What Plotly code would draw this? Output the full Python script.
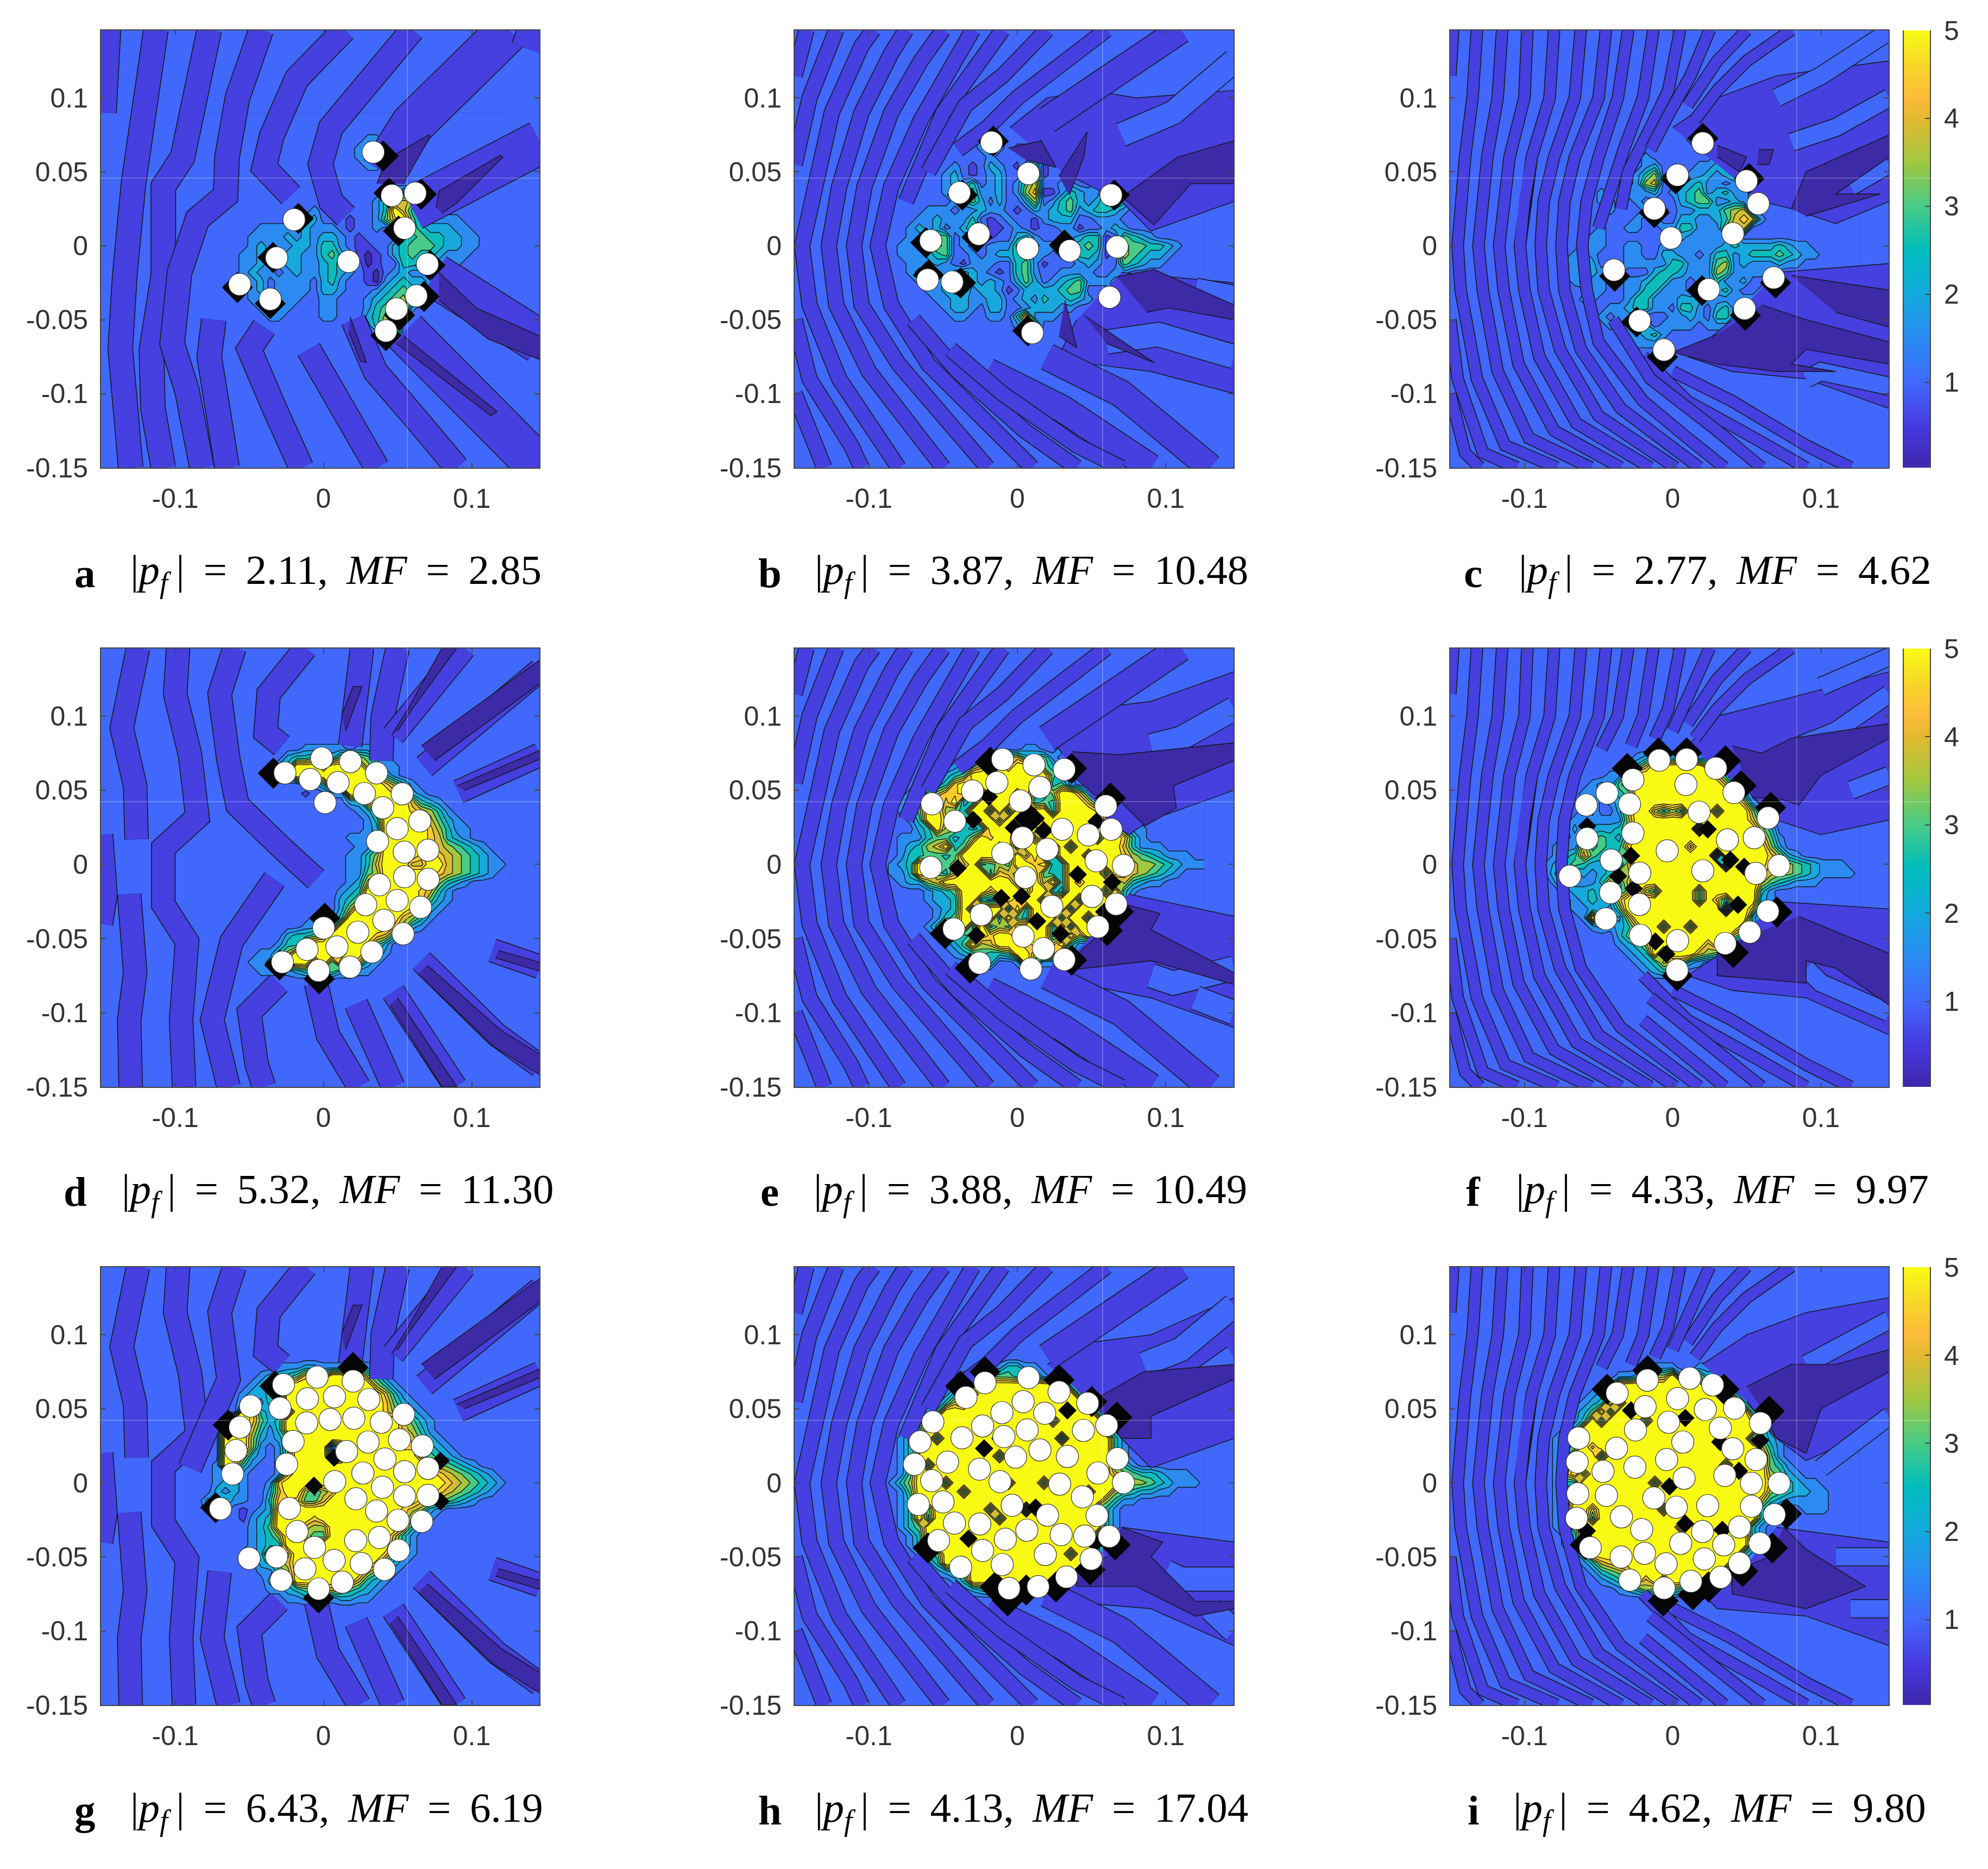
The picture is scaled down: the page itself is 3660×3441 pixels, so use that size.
import numpy as np
import plotly.graph_objects as go

# ---------- near-field band readings: 31 rows x 37 columns, x -0.09..0.126, y 0.09..-0.09 ----------
BAND_VALUE = {'0': .3, '1': .78, '2': 1.25, '3': 1.75, '4': 2.25, '5': 2.75, '6': 3.25,
              '7': 3.75, '8': 4.25, '9': 4.75, 'Y': 5.6}
E_ = '22222 22222 22222 22222 22222 22222 22222 22'

GRID_A = [E_, E_, E_,
'22222 22222 22222 22222 33222 22222 22222 22',
'22222 22222 22222 22223 43222 22222 22222 22',
'22222 22222 22222 22223 35222 22222 22222 22',
'22222 22222 22222 22222 33222 22222 22222 22',
E_, E_,
'22222 22222 22222 22222 22354 43222 22222 22',
'22222 22222 22222 21022 23578 73222 22222 22',
'22222 22222 22223 21122 235Y8 53222 22222 22',
'22222 22222 22334 22212 2369Y 64333 32222 22',
'22222 22233 33343 33212 23256 65444 33222 22',
'22222 22333 34343 44321 22225 56554 43322 22',
'22222 22343 33443 55321 12245 66654 43322 22',
'22222 23343 34433 56431 01245 65543 33222 22',
'22222 23343 34433 45432 01225 55433 32222 22',
'22222 23433 23433 45432 10234 33222 22222 22',
'22222 23342 33332 45322 10345 44322 22222 22',
'22222 22342 33332 44322 23456 55322 22222 22',
'22222 22333 33322 33222 34567 55222 22222 22',
'22222 22233 33222 33222 35679 32222 22222 22',
'22222 22223 32222 33222 45788 22222 22222 22',
'22222 22222 22222 22222 35892 22222 22222 22',
'22222 22222 22222 22222 23572 22222 22222 22',
E_, E_, E_, E_, E_]

GRID_B = [E_, E_,
'22222 22222 22322 22222 22222 22222 22222 22',
'22222 22222 23432 22222 22222 22222 22222 22',
'22222 22222 23532 11232 22222 22222 22222 22',
'22222 22222 22322 21332 22222 22222 22222 22',
'22222 22232 12432 14612 22222 23222 22222 22',
'22222 22342 12342 25712 22222 35432 22222 22',
'22222 22343 52342 36822 33223 57632 22222 22',
'22222 22335 63342 37911 35433 68532 22222 22',
'22222 22234 64242 24723 56434 67522 22222 22',
'22222 33323 34332 12434 56345 54322 22222 22',
'22223 34333 52123 22134 44223 33222 22222 22',
'22234 34234 63112 32122 33122 34322 22222 22',
'22233 46623 33122 45322 23455 12654 32222 22',
'22333 47623 22333 66433 45565 12766 55432 22',
'22333 45622 32344 55332 33554 12765 44322 22',
'22233 34321 33322 56312 22343 22654 33222 22',
'22232 22345 43212 56322 33332 23322 22222 22',
'22223 33455 43432 46423 45633 34322 22222 22',
'22222 33455 34431 24444 56622 27732 22222 22',
'22222 23344 33442 34354 45432 37822 22222 22',
'22222 22344 32442 23444 33222 23522 22222 22',
'22222 22233 22332 59333 22222 22222 22222 22',
'22222 22222 22222 35722 22222 22222 22222 22',
'22222 22222 22222 23422 22222 22222 22222 22',
E_, E_, E_, E_, E_]

GRID_C = [E_, E_,
'22222 22222 22222 22233 22222 22222 22222 22',
'22222 22222 22222 22343 22222 22222 22222 22',
'22222 22222 22222 22233 22222 22222 22222 22',
'22222 22222 22322 22222 33222 22222 22222 22',
'22222 22222 22342 22233 43322 22222 22222 22',
'22222 22222 23572 22334 34522 22222 22222 22',
'22222 22222 23782 23453 32342 22222 22222 22',
'22222 22322 33342 34563 45332 22222 22222 22',
'22222 22332 23222 24566 33432 22222 22222 22',
'22222 22232 22333 23344 46782 22222 22222 22',
'22222 22222 23232 24433 45898 32222 22222 22',
'22222 22322 33223 35533 37882 22222 22222 22',
'22222 23322 22222 34333 33422 22222 22222 22',
'22222 33322 33223 33333 34544 44543 32222 22',
'22223 43222 33224 43323 55345 55654 33222 22',
'22233 44232 33333 55333 67343 33433 22222 22',
'22233 34323 22245 54333 76333 32222 22222 22',
'22223 43322 33455 33233 53342 22222 22222 22',
'22222 23322 33553 33233 45322 33322 22222 22',
'22222 33222 35533 34443 33333 34322 22222 22',
'22222 22233 45533 25532 45342 22222 22222 22',
'22222 22323 33222 33432 55322 22222 22222 22',
'22222 22232 34423 33323 33222 22222 22222 22',
'22222 22222 33453 22222 22222 22222 22222 22',
'22222 22222 23332 22222 22222 22222 22222 22',
'22222 22222 22222 22222 22222 22222 22222 22',
E_, E_, E_]

GRID_D = [E_, E_,
'22222 22222 22233 33323 33222 22222 22222 22',
'22222 22222 24556 64777 63322 22222 22222 22',
'22222 22222 45YYY 8YY9Y 75332 22222 22222 22',
'22222 22222 35YYY YYYYY Y8532 22222 22222 22',
'22222 22222 22233 5YYYY YY975 32222 22222 22',
'22222 22222 22212 233YY 8YY96 43222 22222 22',
'22222 22222 22222 22244 9YYYY 85432 22222 22',
'22222 22222 22222 22223 47YYY 98753 22222 22',
'22222 22222 22222 22222 35YYY Y9864 32222 22',
'22222 22222 22222 22222 34YYY YY975 33222 22',
'22222 22222 22222 22233 35YYY YY985 43222 22',
'22222 22222 22222 22223 35YYY YY987 65432 22',
'22222 22222 22222 22233 57YYY Y9Y98 76543 22',
'22222 22222 22222 22233 58YYY 88YY8 76543 32',
'22222 22222 22222 22233 67YYY YYY98 76543 22',
'22222 22222 22222 22234 8YYYY YY975 43222 22',
'22222 22222 22222 22345 YYYYY Y9853 22222 22',
'22222 22222 22222 22457 YYYYY Y9643 22222 22',
'22222 22222 22222 2247Y YYYYY 97432 22222 22',
'22222 22222 22223 235YY YYYY8 75322 22222 22',
'22222 22222 22233 45YYY YYY97 43222 22222 22',
'22222 22222 24556 7YYYY Y9853 22222 22222 22',
'22222 22222 355YY YYYYY 96422 22222 22222 22',
'22222 22233 57YYY YY8YY 85322 22222 22222 22',
'22222 22334 8YYY6 Y6YY8 43222 22222 22222 22',
'22222 22233 33455 56453 32222 22222 22222 22',
E_, E_, E_]

GRID_E = [E_, E_,
'22222 22222 23322 23322 32222 22222 22222 22',
'22222 22222 45687 85563 22222 22222 22222 22',
'22222 22234 68YY8 YYY65 32222 22222 22222 22',
'22222 23456 YYYYY YYYY6 43222 22222 22222 22',
'22222 3459Y 9YYYY YY7Y5 63222 22222 22222 22',
'22234 6799Y 65YYY 8Y647 YY853 22222 22222 22',
'22345 YY8Y4 5YYYY 5Y565 YYY85 32222 22222 22',
'22346 YY765 YY5Y5 Y6YY5 YYYY9 53222 22222 22',
'22235 YY8Y4 5YY6Y YY5YY YYYYY 86322 22222 22',
'22224 5Y775 45YYY 8YY5Y YYYYY Y8533 22222 22',
'22333 56645 7Y9YY 5Y6YY YYYY5 YY953 22222 22',
'22345 78Y56 YYY8Y 5YYY5 Y5YYY YY853 33222 22',
'22355 6656Y YYYY6 Y7Y55 YYY5Y YY976 54333 22',
'2345Y 75678 Y5676 YY9Y5 5YYYY YY987 76543 33',
'2335Y 9658Y YY598 7YY65 5YYYY 5Y987 65432 22',
'22344 78YYY YYYYY 76Y7Y 5Y8YY Y5854 33222 22',
'22222 3456Y YY8YY Y7YY5 4YYYY 5Y532 22222 22',
'22222 3445Y Y545Y 8YY5Y YY5YY YY522 22222 22',
'22222 2345Y 5YYY5 Y5YY5 Y5YYY YY422 22222 22',
'22222 2356Y YYY5Y 65YYY 5YY5Y 5Y222 22222 22',
'22222 35Y7Y 5Y576 YYYY5 Y5YYY 42222 22222 22',
'22222 23465 6Y9YY 8YYY5 6Y7YY 22222 22222 22',
'22222 22346 Y78YY Y8YY8 Y5322 22222 22222 22',
'22222 22234 56556 YY7YY 54222 22222 22222 22',
'22222 22222 34522 3Y633 22222 22222 22222 22',
'22222 22222 22222 23222 22222 22222 22222 22',
E_, E_, E_]

GRID_F = [E_, E_,
'22222 22222 22222 22222 22222 22222 22222 22',
'22222 22222 23443 45433 22222 22222 22222 22',
'22222 22222 458YY YYYY8 53222 22222 22222 22',
'22222 22233 7YYYY YYYYY 85222 22222 22222 22',
'22222 23436 8YYYY YYYYY Y8422 22222 22222 22',
'22222 33445 6YYYY YYYYY YY842 22222 22222 22',
'22222 34234 6YYYY YYYYY YYY83 22222 22222 22',
'22222 34224 8YY75 75YYY 5YYY7 32222 22222 22',
'22223 33333 7YYYY YYYYY YYYY8 53222 22222 22',
'22224 24445 7YYYY YYY0Y YYYYY 75222 22222 22',
'22223 35654 7YYYY YYYYY YYYYY 96322 22222 22',
'22333 85655 9YYYY YY7YY YYYYY Y7422 22222 22',
'22345 96556 5YYYY YYYYY 0YYYY Y9743 22222 22',
'23456 54453 8YYYY YYYYY Y0YYY Y8776 54333 22',
'23553 43458 7YYYY YYYYY YYYYY 98776 54333 32',
'22453 33585 8YYYY YYYYY YYYYY 86543 33222 22',
'22234 45355 7Y75Y YYY5Y YYYYY 53222 22222 22',
'22223 45448 YYYYY YYY5Y 85YYY 43222 22222 22',
'22223 34436 YYYYY YYYYY Y0YY8 32222 22222 22',
'22222 3Y543 7YYYY YYYYY YYYY4 22222 22222 22',
'22222 23434 58YY5 YY5YY YYY85 22222 22222 22',
'22222 22224 68YYY YYYYY YY752 22222 22222 22',
'22222 22223 457YY YYYY8 Y7322 22222 22222 22',
'22222 22222 345Y5 YYY87 63222 22222 22222 22',
'22222 22222 23458 77432 22222 22222 22222 22',
'22222 22222 22345 32222 22222 22222 22222 22',
E_, E_, E_]

GRID_G = [E_,
E_,
'22222 22222 33344 33345 33222 22222 22222 22',
'22222 22234 45698 7YY7Y 75322 22222 22222 22',
'22222 22345 5YYYY YYYYY Y7532 22222 22222 22',
'22222 23445 3YYYY YYYYY YY853 22222 22222 22',
'22222 24435 4YYYY YYYYY YY964 32222 22222 22',
'22222 2Y954 35YYY YYYYY YY975 43222 22222 22',
'2222Y YY964 5YYYY YYYYY YYYY8 64322 22222 22',
'2222Y YY853 5YYYY YYYYY YYYY8 75322 22222 22',
'2222Y YY743 46YYY YYYYY YYYY9 86432 22222 22',
'2222Y YY732 37YYY Y25YY YYYY9 96543 22222 22',
'2222Y Y8432 36YYY Y34YY YYYYY Y7654 32222 22',
'2223Y 95322 37YYY YYYYY YYYYY YY876 54322 22',
'22233 33222 38YYY YYYYY YYYYY YYY98 76543 22',
'22234 43223 9YYYY YYYYY YYYYY YYYY9 87654 32',
'22243 43224 8YY75 78YYY YYYYY YYY98 76543 22',
'22435 33225 99966 8YYYY YYYYY Y9876 54322 22',
'22353 21234 YYYYY YYYYY YYYY9 87432 22222 22',
'22222 21345 YYYY9 YYYYY YYYY9 64322 22222 22',
'22222 22346 YYY87 7YYYY YYYY9 53222 22222 22',
'22222 22345 7YY76 6YYYY YYY85 32222 22222 22',
'22222 22345 5YYYY YYYYY YYY75 32222 22222 22',
'22222 2334Y 97YYY YYYYY YY964 32222 22222 22',
'22222 22245 78YYY YYYYY Y9643 22222 22222 22',
'22222 22233 57YYY YYYYY 86432 22222 22222 22',
'22222 22224 55YYY YYYY8 54322 22222 22222 22',
'22222 22223 34567 88765 43222 22222 22222 22',
'22222 22222 23343 33443 32222 22222 22222 22',
E_, E_]

GRID_H = [E_, E_,
'22222 22222 22335 53322 22222 22222 22222 22',
'22222 22223 45766 58532 22222 22222 22222 22',
'22222 22235 YYYYY YYYYY Y5322 22222 22222 22',
'22222 22356 7YYYY YYYYY YY532 22222 22222 22',
'22222 23585 YYYYY YYYYY YYY53 22222 22222 22',
'22222 35YYY YYYYY YYYYY YYYY5 32222 22222 22',
'22235 YYYYY YYYYY YYYY5 YYYYY 53222 22222 22',
'22235 YYYYY YYYYY YYYYY YYYYY 53222 22222 22',
'22356 Y5YYY YYY0Y YYYYY 4YYYY Y5322 22222 22',
'22356 YYYYY YYYYY YYYYY YYYYY Y5322 22222 22',
'2235Y YYYYY YYY5Y YYYYY YYYYY Y5322 22222 22',
'2235Y 5YYYY YYYYY YYYYY YYYYY Y6532 22222 22',
'2236Y YYYYY YYYYY YYYYY YYYYY Y8765 54333 22',
'2357Y YY5YY YYYY5 YYY5Y YYYYY YY877 65433 32',
'2236Y YYYY5 YYYYY YYYYY YYY5Y Y7654 43322 22',
'2235Y YYYYY YYYYY YYYYY YYYYY 75332 22222 22',
'2235Y 6YYYY YY5YY Y0YYY YYYY5 53222 22222 22',
'2235Y 5YYYY YYY5Y YYYYY YYYYY 53222 22222 22',
'22356 YYYYY YYYYY YYYYY YYYYY 53222 22222 22',
'22235 YYYYY YYYYY YYYYY YYYY5 32222 22222 22',
'22235 YYYYY YYYYY YYYYY YYYY5 32222 22222 22',
'22223 56YYY YYYYY YYYYY Y5YY5 22222 22222 22',
'22222 35YYY YYYYY YYYYY YYY53 22222 22222 22',
'22222 23456 YYYYY YYYYY YY532 22222 22222 22',
'22222 22235 YYYYY YYYYY Y5322 22222 22222 22',
'22222 22223 45667 55554 32222 22222 22222 22',
E_, E_, E_]

GRID_I = [E_, E_,
'22222 22222 22233 32233 22222 22222 22222 22',
'22222 22223 34677 Y4774 52222 22222 22222 22',
'22222 2234Y YYYYY YYYY5 Y5322 22222 22222 22',
'22222 2346Y YYYYY YYYYY Y9532 22222 22222 22',
'22222 345Y5 YYYYY YYYYY YYY53 22222 22222 22',
'22223 46Y5Y YYYYY YYYYY YYYY5 32222 22222 22',
'22223 5Y5YY YY5YY YYYYY YYYY9 53222 22222 22',
'22235 YYYYY YYYYY YYYYY YYYYY 63222 22222 22',
'22356 YYYYY YYYYY YYYYY YYYY5 64322 22222 22',
'22356 Y8YYY YYYYY YYYYY YYYYY 85322 22222 22',
'2236Y YY5YY YYYYY YYYYY YYYYY Y6322 22222 22',
'2236Y YYYYY YYYYY YYYYY Y5YYY Y6532 22222 22',
'2238Y 6YYYY YYYYY YYYYY YYYYY Y7643 22222 22',
'22355 YYYYY YYY5Y YYYYY YYYYY Y8654 33222 22',
'2236Y YYYYY YYYYY YYYYY YYYYY Y7654 43322 22',
'2235Y YYYYY YYYYY YYYYY YYYYY 85433 33322 22',
'2236Y Y7YYY YYYY5 YYYYY YYYYY 53222 33322 22',
'2235Y Y5YYY YYYYY YYYYY YYYYY 53222 22222 22',
'22356 YYYYY YYYYY Y5YYY YYYY5 32222 22222 22',
'22235 YYYYY YYYYY YYYYY YYYY5 32222 22222 22',
'22235 YYYYY YYYYY YYYYY YYYY5 32222 22222 22',
'22223 5YYYY YYYYY YYYYY YYY53 22222 22222 22',
'22222 3589Y YYYYY YYYYY YY532 22222 22222 22',
'22222 23567 8YYYY YYYYY Y5322 22222 22222 22',
'22222 22345 7Y8Y6 YY7Y5 53222 22222 22222 22',
'22222 22223 45765 65543 32222 22222 22222 22',
E_, E_, E_]

# ---------- far-field stripes: centre-lines (x1,y1,x2,y2,...) ----------
FAR_A = [
 [-.145,.146,-.148,.09],
 [-.113,.146,-.122,.09,-.128,.043,-.134,-.02,-.137,-.07,-.13,-.15],
 [-.077,.146,-.085,.1,-.095,.06,-.108,.04,-.108,-.02,-.116,-.07,-.115,-.11,-.108,-.15],
 [-.042,.146,-.058,.1,-.065,.06,-.066,.034,-.085,.018,-.097,-.018,-.102,-.066,-.092,-.098,-.082,-.15],
 [.014,.146,-.018,.113,-.035,.074,-.04,.053,-.022,.034],
 [.06,.146,.03,.113,.005,.08,-.002,.055,.005,.03,.015,.02],
 [.02,-.05,.035,-.085,.065,-.12,.09,-.15],
 [-.01,-.07,.005,-.098,.036,-.15],
 [-.04,-.055,-.05,-.07,-.033,-.11,-.015,-.15],
 [-.074,-.05,-.077,-.075,-.065,-.15],
]
WIDE_A = [
 [.125,.146,.06,.082,.04,.05],
 [.146,.07,.09,.045,.06,.025],
 [.075,-.02,.146,-.065],
 [.055,-.058,.118,-.115,.146,-.15],
 [.146,.146,.141,.132],
]
DARK_A = [
 [.036,.042,.042,.058,.071,.075,.072,.074,.054,.042],
 [.076,.026,.078,.037,.119,.061,.121,.06,.09,.029,.08,.022],
 [.078,-.018,.103,-.042,.146,-.061,.146,-.077,.111,-.063,.078,-.037],
 [.054,-.061,.117,-.112,.113,-.115,.049,-.066],
 [.018,-.048,.029,-.079,.025,-.078,.017,-.058],
]

FAR_LOW = [
 [-.125,.146,-.136,.092,-.127,.053,-.126,.017],
 [-.15,.02,-.147,-.02,-.15,-.04],
 [-.098,.146,-.1,.115,-.09,.074,-.085,.032,-.108,.011,-.108,-.027,-.092,-.052,-.096,-.105,-.094,-.15],
 [-.131,-.02,-.127,-.073,-.131,-.105,-.13,-.15],
 [-.03,-.08,-.05,-.1,-.045,-.135,-.04,-.15],
 [-.012,.146,-.037,.115,-.039,.089,-.028,.08],
 [.026,.146,.018,.1,.018,.08],
 [.05,.146,.04,.1,.039,.07],
 [.095,.146,.047,.087],
 [.146,.131,.068,.066],
 [.146,.074,.091,.049],
 [.066,-.065,.117,-.115,.146,-.136],
 [.047,-.086,.089,-.15],
 [.022,-.094,.03,-.115,.047,-.15],
 [-.005,-.08,.003,-.115,.024,-.15],
 [.114,-.058,.146,-.069],
]
INNER_D = [
 [-.06,.146,-.07,.115,-.064,.07,-.058,.04,-.028,.011,-.005,-.01],
 [-.033,-.01,-.062,-.052,-.075,-.105,-.064,-.15],
]
INNER_G = [
 [-.06,.146,-.07,.115,-.064,.07,-.075,.04,-.09,.01],
 [-.07,-.06,-.075,-.105,-.064,-.15],
]
DARK_LOW = [
 [.05,.09,.06,.105,.09,.146,.08,.146,.057,.105,.046,.087],
 [.075,.07,.146,.122,.146,.138,.066,.08],
 [.095,.05,.146,.071,.146,.077,.09,.053],
 [.07,-.068,.12,-.112,.146,-.128,.146,-.142,.115,-.123,.064,-.074],
 [.05,-.09,.08,-.135,.09,-.15,.08,-.15,.045,-.095],
 [.118,-.058,.146,-.066,.146,-.072,.116,-.063],
 [.015,.09,.026,.12,.02,.12,.012,.1],
]

FAR_MID = [
 [-.03,.146,-.045,.12,-.065,.085,-.085,.04,-.094,0,-.085,-.04,-.06,-.08,-.02,-.12,.01,-.15],
 [-.05,.146,-.065,.125,-.085,.09,-.103,.04,-.11,0,-.105,-.04,-.08,-.08,-.042,-.125,-.02,-.15],
 [-.075,.146,-.085,.13,-.105,.09,-.12,.04,-.127,0,-.122,-.04,-.1,-.085,-.065,-.13,-.05,-.15],
 [-.097,.146,-.105,.135,-.125,.09,-.137,.04,-.145,0,-.14,-.04,-.12,-.09,-.09,-.135,-.08,-.15],
 [-.122,.146,-.14,.1,-.15,.055],
 [-.15,-.05,-.14,-.09,-.112,-.135,-.105,-.15],
 [-.142,.146,-.15,.115],
 [-.15,-.1,-.13,-.15],
 [-.01,.146,-.03,.12,-.05,.09,-.075,.03],
 [.02,.146,-.01,.115,-.035,.095,-.06,.05],
 [.06,.146,.0,.1,-.02,.08,-.04,.065],
 [-.07,-.05,-.04,-.085,.005,-.125,.04,-.15],
 [-.045,-.07,-.01,-.1,.04,-.135,.07,-.15],
]
WIDE_MID = [
 [.11,.146,.05,.105,.02,.085],
 [-.02,-.085,.03,-.11,.09,-.15],
 [.02,-.075,.07,-.1,.13,-.15],
]
FAR_HIGH = [
 [-.045,.146,-.05,.1,-.066,.06,-.073,.03,-.075,0,-.073,-.03,-.062,-.07,-.035,-.11,.018,-.15],
 [-.062,.146,-.066,.1,-.08,.06,-.087,.03,-.089,0,-.087,-.03,-.076,-.07,-.05,-.115,.002,-.15],
 [-.08,.146,-.083,.1,-.095,.06,-.1,.03,-.103,0,-.1,-.03,-.09,-.075,-.065,-.12,-.015,-.15],
 [-.098,.146,-.1,.1,-.11,.06,-.114,.03,-.117,0,-.114,-.03,-.104,-.08,-.08,-.125,-.035,-.15],
 [-.115,.146,-.118,.1,-.125,.06,-.128,.03,-.131,0,-.128,-.03,-.118,-.085,-.097,-.13,-.055,-.15],
 [-.132,.146,-.135,.1,-.14,.06,-.143,.03,-.145,0,-.143,-.03,-.132,-.09,-.113,-.135,-.078,-.15],
 [-.15,.115,-.148,.146],
 [-.15,-.05,-.145,-.09,-.128,-.14,-.105,-.15],
 [-.15,-.1,-.14,-.14,-.13,-.15],
 [.05,.146,.03,.125,.01,.095],
 [.08,.146,.05,.125,.03,.105,.015,.085],
 [-.02,-.075,.01,-.105,.055,-.13,.09,-.15],
 [.0,-.085,.04,-.105,.09,-.135,.12,-.15],
]
INNER_C = [
 [-.03,.146,-.037,.1,-.05,.06,-.058,.03,-.061,0,-.058,-.03,-.05,-.065,-.02,-.105,.01,-.13,.035,-.15],
 [-.013,.146,-.02,.1,-.033,.065,-.045,.03,-.05,.012],
 [.005,.146,-.003,.105,-.015,.08,-.03,.05,-.035,.025],
 [.025,.146,.012,.115,-.002,.09,-.015,.065],
 [-.04,-.05,-.015,-.09,.03,-.125,.06,-.15],
]
INNER_FI = [
 [-.03,.146,-.037,.1,-.048,.078],
 [-.02,-.105,.01,-.13,.035,-.15],
 [-.013,.146,-.02,.1,-.028,.08],
 [.005,.146,-.003,.105,-.012,.085],
 [.025,.146,.012,.115,.0,.09],
 [-.015,-.09,.03,-.125,.06,-.15],
]
# large indigo patches right of the cluster, blue tongues inside them, and the darkest patches
PATCH_B = [[-.005,.08,.02,.1,.05,.105,.08,.1,.146,.105,.146,.03,.09,.01,.07,.03,.03,.05],
           [.07,-.018,.146,-.025,.146,-.1,.09,-.085,.05,-.08,.03,-.07,.04,-.05]]
BLUE_B = [[.146,.125,.105,.09,.07,.075],[.146,.06,.12,.05],[.146,-.075,.095,-.06,.06,-.065],[.146,-.035,.12,-.03]]
DARK_B = [[.072,.034,.108,.06,.146,.071,.146,.042,.117,.042,.092,.014,.072,.032],
          [.028,.047,.047,.077,.045,.061,.035,.034],[-.006,.066,.016,.071,.026,.053,.006,.058],
          [.067,-.021,.092,-.016,.146,-.04,.146,-.05,.102,-.042,.087,-.045],
          [.045,-.047,.092,-.079,.06,-.066],[.032,-.037,.04,-.069,.028,-.061]]
PATCH_C = [[.0,.08,.03,.1,.07,.115,.146,.125,.146,.03,.11,.015,.08,.025,.06,.03],
           [.07,-.018,.146,-.012,.146,-.11,.09,-.09,.04,-.085,.01,-.075,.04,-.05]]
BLUE_C = [[.146,.1,.11,.08,.08,.07],[.146,.055,.12,.04],[.146,-.095,.1,-.085,.09,-.09],[.146,.145,.1,.115,.07,.1]]
DARK_C = [[.08,.025,.09,.05,.146,.075,.146,.06,.11,.035,.14,.035,.09,.02],
          [.03,.068,.05,.06,.045,.05,.03,.06],[.058,.065,.068,.065,.065,.055,.057,.055],
          [.08,-.02,.146,-.03,.146,-.055,.11,-.045],
          [.06,-.04,.09,-.05,.146,-.065,.146,-.08,.09,-.07,.08,-.08,.11,-.085,.07,-.085,.03,-.08,.0,-.072,.03,-.06]]
PATCH_E = [[.03,.075,.02,.09,.05,.105,.09,.11,.146,.13,.146,.05,.09,.03,.075,.02,.06,.03],
           [.075,-.02,.146,-.035,.146,-.11,.09,-.09,.04,-.08,.03,-.07]]
BLUE_E = [[.146,.105,.11,.085,.09,.08],[.146,-.07,.105,-.08,.09,-.075],[.146,-.1,.12,-.09]]
DARK_E = [[.037,.076,.069,.074,.146,.082,.146,.07,.105,.053,.107,.038,.086,.026,.069,.043,.052,.047,.037,.06],
          [.073,-.027,.096,-.033,.09,-.044,.146,-.073,.146,-.081,.09,-.065,.037,-.071,.04,-.061,.054,-.048]]
PATCH_F = [[.01,.08,.03,.1,.07,.11,.146,.13,.146,.03,.1,.02,.07,.03,.05,.05],
           [.07,-.025,.146,-.03,.146,-.115,.09,-.09,.04,-.085,.01,-.075,.04,-.055]]
BLUE_F = [[.146,.115,.11,.09,.085,.08],[.146,.06,.12,.05],[.146,-.1,.1,-.08,.09,-.07],[.146,.14,.1,.12]]
DARK_F = [[.04,.08,.06,.075,.08,.085,.146,.095,.146,.085,.1,.06,.085,.04,.07,.045,.055,.045],
          [.085,-.035,.146,-.06,.146,-.095,.11,-.07,.09,-.065,.09,-.08,.03,-.075,.03,-.06,.06,-.045]]
PATCH_H = [[.02,.08,.05,.095,.09,.1,.146,.125,.146,.03,.09,.01,.07,.03,.05,.055],
           [.07,-.03,.146,-.04,.146,-.11,.09,-.085,.03,-.08,.02,-.07,.05,-.055]]
BLUE_H = [[.146,.12,.11,.09,.085,.08],[.146,.085,.125,.07],[.146,-.065,.11,-.065,.1,-.06],[.146,-.1,.13,-.085]]
DARK_H = [[.05,.055,.085,.075,.146,.08,.146,.07,.09,.045,.09,.03,.07,.03,.06,.045],
          [.07,-.03,.098,-.04,.09,-.05,.12,-.08,.146,-.08,.146,-.085,.12,-.09,.08,-.07,.04,-.07,.04,-.06,.06,-.05]]
PATCH_I = [[.02,.08,.05,.1,.09,.115,.146,.125,.146,.04,.09,.015,.07,.03,.05,.055],
           [.07,-.03,.146,-.04,.146,-.11,.09,-.09,.03,-.085,.02,-.075,.05,-.055]]
BLUE_I = [[.146,.11,.11,.09,.09,.08],[.146,.045,.115,.02,.1,.01],[.146,-.05,.11,-.05],[.146,-.085,.12,-.085]]
DARK_I = [[.05,.065,.08,.08,.11,.08,.146,.09,.146,.075,.1,.05,.09,.02,.07,.03,.06,.05],
          [.075,-.03,.09,-.045,.13,-.07,.09,-.085,.04,-.075,.04,-.06,.065,-.05]]

# Scatterer centres
CIRCLE_A_X = [.0336,.0462,.0619,.0547,-.0198,-.0316,-.0565,-.0359,.0169,.0701,.0626,.0493,.0421]
CIRCLE_A_Y = [.0633,.0340,.0356,.0119,.0177,-.0082,-.0261,-.0361,-.0106,-.0124,-.0338,-.0427,-.0575]
CIRCLE_B_X = [-.0174,.0074,-.0390,.0631,-.0260,-.0584,.0069,.0353,.0672,-.0604,-.0439,.0621,.0101]
CIRCLE_B_Y = [.0699,.0488,.0359,.0343,.0079,.0034,-.0018,-.0034,-.0008,-.0230,-.0245,-.0348,-.0588]
CIRCLE_C_X = [.0203,.0032,.0498,-.0124,.0577,-.0012,.0406,-.0396,.0681,.0243,.0485,-.0223,-.0059]
CIRCLE_C_Y = [.0694,.0478,.0438,.0251,.0285,.0053,.0082,-.0164,-.0216,-.0296,-.0425,-.0507,-.0704]
CIRCLE_D_X = [-.0260,-.0012,.0182,.0358,-.0090,.0098,.0276,.0531,.0011,.0400,.0650,.0497,.0365,.0545,.0705,.0547,.0707,.0377,.0497,.0285,.0655,.0407,.0001,.0232,.0537,-.0111,.0091,.0327,-.0277,-.0033,.0180]
CIRCLE_D_Y = [.0617,.0716,.0693,.0617,.0573,.0552,.0478,.0476,.0417,.0382,.0293,.0241,.0155,.0083,.0096,-.0083,-.0100,-.0137,-.0243,-.0272,-.0289,-.0377,-.0428,-.0457,-.0468,-.0573,-.0556,-.0590,-.0659,-.0716,-.0692]
CIRCLE_E_X = [-.0100,.0112,.0316,-.0138,.0152,-.0302,.0020,-.0575,.0596,-.0421,.0302,.0632,.0478,.0035,.0201,-.0098,.0531,.0714,-.0583,.0054,.0503,.0232,.0665,-.0243,-.0428,.0543,.0039,.0176,.0316,-.0255,.0091]
CIRCLE_E_Y = [.0708,.0672,.0640,.0552,.0520,.0495,.0428,.0409,.0394,.0291,.0237,.0237,.0199,.0180,.0102,.0075,.0024,-.0007,-.0020,-.0087,-.0216,-.0283,-.0268,-.0339,-.0436,-.0421,-.0484,-.0568,-.0642,-.0665,-.0705]
CIRCLE_F_X = [-.0091,.0094,.0291,-.0268,.0089,.0413,-.0442,-.0583,-.0291,.0178,.0644,-.0268,-.0577,.0369,.0550,-.0037,-.0415,.0716,-.0222,.0203,.0560,-.0693,-.0419,-.0224,.0642,-.0451,.0520,-.0218,.0033,.0354,.0030]
CIRCLE_F_Y = [.0703,.0708,.0649,.0571,.0539,.0485,.0481,.0401,.0407,.0352,.0314,.0211,.0174,.0165,.0180,.0092,.0029,-.0009,-.0058,-.0043,-.0060,-.0079,-.0190,-.0270,-.0316,-.0367,-.0457,-.0478,-.0514,-.0533,-.0713]
CIRCLE_G_X = [-.0270,-.0043,.0200,-.0108,.0074,.0306,-.0491,-.0293,.0541,-.0113,.0045,.0205,.0390,-.0563,.0512,-.0205,.0667,-.0590,.0156,.0301,.0415,-.0249,-.0613,.0266,.0547,.0705,.0076,.0398,.0219,.0547,.0705,-.0695,-.0230,.0358,.0503,.0663,-.0178,.0217,.0377,-.0060,.0507,-.0501,-.0316,.0072,.0255,-.0125,.0411,-.0285,.0127,-.0033]
CIRCLE_G_Y = [.0663,.0714,.0687,.0567,.0581,.0563,.0518,.0504,.0462,.0405,.0428,.0436,.0409,.0375,.0291,.0279,.0249,.0218,.0211,.0275,.0161,.0125,.0060,.0066,.0075,.0098,.0008,-.0030,-.0108,-.0089,-.0085,-.0175,-.0173,-.0190,-.0253,-.0261,-.0329,-.0390,-.0369,-.0436,-.0455,-.0510,-.0499,-.0524,-.0545,-.0581,-.0585,-.0657,-.0671,-.0716]
CIRCLE_H_X = [-.0218,.0075,.0281,-.0346,.0039,.0474,-.0104,.0184,-.0569,-.0234,.0602,.0066,-.0373,-.0091,.0445,-.0655,.0152,-.0012,.0337,-.0693,.0674,-.0470,-.0255,.0543,-.0577,-.0117,.0285,.0714,.0438,-.0501,-.0667,-.0035,.0203,.0537,-.0424,-.0253,.0064,.0295,.0453,.0619,-.0531,-.0081,-.0234,.0188,-.0102,.0497,-.0382,.0331,-.0056,.0140]
CIRCLE_H_Y = [.0676,.0710,.0613,.0577,.0548,.0537,.0474,.0470,.0411,.0384,.0388,.0357,.0304,.0312,.0354,.0277,.0222,.0174,.0178,.0125,.0163,.0140,.0092,.0066,.0014,.0008,-.0009,.0001,-.0095,-.0129,-.0146,-.0152,-.0219,-.0221,-.0272,-.0278,-.0320,-.0350,-.0360,-.0362,-.0390,-.0381,-.0457,-.0484,-.0552,-.0514,-.0570,-.0636,-.0713,-.0701]
CIRCLE_I_X = [-.0171,.0115,.0270,-.0375,.0033,.0417,-.0186,.0220,-.0028,.0592,-.0251,.0321,-.0634,.0068,-.0379,.0405,-.0041,.0562,-.0644,-.0255,.0352,-.0470,.0077,.0531,.0718,-.0640,-.0447,-.0127,.0024,.0236,.0531,.0686,-.0648,-.0346,-.0209,.0201,.0451,.0054,.0344,.0588,-.0556,-.0348,-.0190,.0213,.0451,-.0045,-.0289,.0323,.0123,-.0058]
CIRCLE_I_Y = [.0693,.0706,.0661,.0605,.0569,.0504,.0514,.0495,.0409,.0403,.0357,.0369,.0302,.0275,.0233,.0230,.0157,.0157,.0140,.0106,.0050,.0077,.0031,-.0003,-.0003,-.0074,-.0085,-.0102,-.0165,-.0154,-.0158,-.0215,-.0240,-.0230,-.0316,-.0329,-.0299,-.0409,-.0419,-.0409,-.0438,-.0501,-.0476,-.0514,-.0543,-.0547,-.0657,-.0638,-.0665,-.0711]

# Black patches of dense contour lines
BLACK_BIG_A_X = [.0403,.0442,.0660,.0506,-.0169,-.0341,-.0580,-.0359,.0678,.0513,.0421,.0719]
BLACK_BIG_A_Y = [.0607,.0356,.0348,.0100,.0185,-.0079,-.0282,-.0391,-.0343,-.0470,-.0607,-.0132]
BLACK_BIG_B_X = [-.0162,-.0371,.0653,-.0616,-.0272,-.0599,-.0383,.0071,.0317]
BLACK_BIG_B_Y = [.0707,.0343,.0343,.0021,.0058,-.0198,-.0251,-.0575,.0005]
BLACK_BIG_C_X = [.0203,.0020,.0515,-.0124,-.0391,.0693,.0198,.0490,-.0243,-.0069]
BLACK_BIG_C_Y = [.0726,.0454,.0454,.0224,-.0206,-.0251,-.0303,-.0470,-.0515,-.0752]
BLACK_BIG_D_X = [-.0338,-.0296,-.0029,.0009]
BLACK_BIG_D_Y = [.0615,-.0678,-.0772,-.0363]
BLACK_BIG_E_X = [-.0182,.0365,.0627,.0680,.0606,.0365,-.0487,-.0318,.0081]
BLACK_BIG_E_Y = [.0689,.0647,.0447,-.0320,-.0446,-.0646,-.0467,-.0699,.0310]
BLACK_BIG_F_X = [-.0096,.0094,.0356,.0461,.0661,.0030,.0409,.0703,-.0306]
BLACK_BIG_F_Y = [.0752,.0752,.0699,.0531,.0384,-.0751,-.0594,-.0321,.0647]
BLACK_BIG_G_X = [-.0727,-.0642,-.0327,.0199,-.0033]
BLACK_BIG_G_Y = [-.0167,.0390,.0653,.0779,-.0777]
BLACK_BIG_H_X = [-.0218,.0501,.0281,-.0382,.0670,.0659,.0490,.0260,-.0066,-.0150,.0060,-.0602]
BLACK_BIG_H_Y = [.0749,.0548,.0695,.0653,.0443,-.0419,-.0587,-.0703,-.0797,-.0703,-.0724,-.0440]
BLACK_BIG_I_X = [-.0169,.0346,-.0442,.0651,.0767,.0672,.0472,.0136,-.0064,.0241,-.0589]
BLACK_BIG_I_Y = [.0758,.0632,.0632,.0484,-.0209,-.0440,-.0598,-.0756,-.0798,-.0703,-.0419]
BLACK_SMALL_E_X = [-.0024,.0533,.0407,.0638,-.0276,.0133,-.0108,.0291,.0028,-.0192,.0176,-.0403,.0585,-.0297]
BLACK_SMALL_E_Y = [.0247,.0289,-.0068,-.0120,-.0478,-.0383,-.0226,-.0468,-.0215,.0457,.0226,-.0026,-.0320,.0300]
BLACK_SMALL_F_X = [.0236,.0388,.0482,.0440,-.0264,-.0281,-.0117,-.0043,-.0577,-.0369]
BLACK_SMALL_F_Y = [.0237,.0031,-.0016,-.0272,-.0163,.0058,-.0520,-.0604,.0258,-.0079]
BLACK_SMALL_G_X = [-.0064,.0072,.0789,.0789]
BLACK_SMALL_G_Y = [-.0020,.0170,.0148,-.0125]
BLACK_SMALL_H_X = [.0337,-.0224,.0123,-.0329,.0522]
BLACK_SMALL_H_Y = [.0489,.0232,-.0167,-.0377,-.0409]
BLACK_SMALL_I_X = [.0085,-.0281,-.0022,.0084,.0335,-.0579,.0588,.0447,.0321]
BLACK_SMALL_I_Y = [.0438,.0489,-.0024,-.0276,-.0318,-.0325,.0285,.0081,.0275]

PANEL_LETTERS = ['a', 'b', 'c', 'd', 'e', 'f', 'g', 'h', 'i']
PF_TEXT = ['2.11', '3.87', '2.77', '5.32', '3.88', '4.33', '6.43', '4.13', '4.62']
MF_TEXT = ['2.85', '10.48', '4.62', '11.30', '10.49', '9.97', '6.19', '17.04', '9.80']
X_TICKS = [-0.1, 0, 0.1]
X_TICK_TEXT = ['-0.1', '0', '0.1']
Y_TICKS = [-0.15, -0.1, -0.05, 0, 0.05, 0.1]
Y_TICK_TEXT = ['-0.15', '-0.1', '-0.05', '0', '0.05', '0.1']
CBAR_TICKS = [1, 2, 3, 4, 5]

INDIGO, BLUE, DARK, LINE = '#4540df', '#4168fd', '#3d2aa6', '#151515'
BAND_COLORS = ['#3d2aa6', '#4540df', '#4168fd', '#2c8bf1', '#17a9dc', '#0dbdb9', '#47cb86',
               '#a0c840', '#d4bd32', '#fcca2e', '#f9fa14']
PARULA = [[0, '#3e26a8'], [.1, '#4639e0'], [.2, '#4169fb'], [.3, '#2a8bf2'], [.4, '#14a9dd'],
          [.5, '#00bcbd'], [.6, '#48cb86'], [.7, '#a0c840'], [.8, '#e3b931'], [.85, '#fdbb3a'],
          [.92, '#f8d62a'], [1, '#f9fb15']]

XR = [-0.15, 0.1456]
YR = [-0.15, 0.1456]
W, H = 3660, 3441
COLS = [(186, 993), (1463, 2271), (2670, 3477)]
ROWS = [(56, 861), (1194, 2001), (2333, 3139)]
LETTER_X = [156, 1417, 2712, 138, 1417, 2712, 156, 1417, 2712]
TEXT_X = [238, 1498, 2794, 222, 1496, 2789, 238, 1498, 2784]
TEXT_Y = [1055, 2194, 3333]

PANELS = [
    (GRID_A, FAR_A, 44, WIDE_A, [], [], DARK_A, CIRCLE_A_X, CIRCLE_A_Y, BLACK_BIG_A_X, BLACK_BIG_A_Y, [], []),
    (GRID_B, FAR_MID, 27, WIDE_MID, PATCH_B, BLUE_B, DARK_B, CIRCLE_B_X, CIRCLE_B_Y, BLACK_BIG_B_X, BLACK_BIG_B_Y, [], []),
    (GRID_C, FAR_HIGH + INNER_C, 20, [], PATCH_C, BLUE_C, DARK_C, CIRCLE_C_X, CIRCLE_C_Y, BLACK_BIG_C_X, BLACK_BIG_C_Y, [], []),
    (GRID_D, FAR_LOW + INNER_D, 42, [], [], [], DARK_LOW, CIRCLE_D_X, CIRCLE_D_Y, BLACK_BIG_D_X, BLACK_BIG_D_Y, [], []),
    (GRID_E, FAR_MID, 27, WIDE_MID, PATCH_E, BLUE_E, DARK_E, CIRCLE_E_X, CIRCLE_E_Y, BLACK_BIG_E_X, BLACK_BIG_E_Y, BLACK_SMALL_E_X, BLACK_SMALL_E_Y),
    (GRID_F, FAR_HIGH + INNER_FI, 20, [], PATCH_F, BLUE_F, DARK_F, CIRCLE_F_X, CIRCLE_F_Y, BLACK_BIG_F_X, BLACK_BIG_F_Y, BLACK_SMALL_F_X, BLACK_SMALL_F_Y),
    (GRID_G, FAR_LOW + INNER_G, 42, [], [], [], DARK_LOW, CIRCLE_G_X, CIRCLE_G_Y, BLACK_BIG_G_X, BLACK_BIG_G_Y, BLACK_SMALL_G_X, BLACK_SMALL_G_Y),
    (GRID_H, FAR_MID, 27, WIDE_MID, PATCH_H, BLUE_H, DARK_H, CIRCLE_H_X, CIRCLE_H_Y, BLACK_BIG_H_X, BLACK_BIG_H_Y, BLACK_SMALL_H_X, BLACK_SMALL_H_Y),
    (GRID_I, FAR_HIGH + INNER_FI, 20, [], PATCH_I, BLUE_I, DARK_I, CIRCLE_I_X, CIRCLE_I_Y, BLACK_BIG_I_X, BLACK_BIG_I_Y, BLACK_SMALL_I_X, BLACK_SMALL_I_Y),
]


def parse(rows):
    out = []
    for row in rows[::-1]:
        row = row.replace(' ', '')
        row = (row + '2' * 37)[:37]
        out.append([BAND_VALUE[ch] for ch in row])
    return out


TICK_FONT = dict(family='Liberation Sans, Arial, sans-serif', size=50, color='#333333')
AX = dict(showline=True, linecolor='#454545', linewidth=2, mirror='allticks', ticks='inside',
          ticklen=9, tickwidth=1.5, tickcolor='#454545', showgrid=False, zeroline=False,
          tickfont=TICK_FONT, tickmode='array', automargin=False)

fig = go.Figure()
layout = {}
ann = []
THIN = '\u2009'

for i, (grid, far, bw, wide, patch, blue, dark, cx, cy, bx, by, sx, sy) in enumerate(PANELS):
    r, c = divmod(i, 3)
    s = '' if i == 0 else str(i + 1)
    axes = dict(xaxis='x' + s, yaxis='y' + s, hoverinfo='skip')
    x0, x1 = COLS[c]
    y0, y1 = ROWS[r]
    fig.add_trace(go.Contour(z=parse(grid), x0=-.09, dx=.006, y0=-.09, dy=.006, showscale=False, zauto=False,
                             zmin=0, zmax=5.5, colorscale=[[k / 10, col] for k, col in enumerate(BAND_COLORS)],
                             contours=dict(start=.5, end=5, size=.5, coloring='fill', showlines=True),
                             line=dict(color=LINE, width=1.4, smoothing=0), **axes))

    def poly(pts, color):
        fig.add_trace(go.Scatter(x=pts[0::2], y=pts[1::2], mode='lines', fill='toself', fillcolor=color,
                                 line=dict(color=LINE, width=1.4), **axes))

    def band(pts, width, color):
        fig.add_trace(go.Scatter(x=pts[0::2], y=pts[1::2], mode='lines', line=dict(color=LINE, width=width + 3), **axes))
        fig.add_trace(go.Scatter(x=pts[0::2], y=pts[1::2], mode='lines', line=dict(color=color, width=width), **axes))

    for p in patch:
        poly(p, INDIGO)
    for p in blue:
        band(p, bw * 1.6, BLUE)
    for p in wide:
        band(p, bw * 1.8, INDIGO)
    for p in far:
        band(p, bw, INDIGO)
    for p in dark:
        poly(p, DARK)
    if bx:
        fig.add_trace(go.Scatter(x=bx, y=by, mode='markers', marker=dict(symbol='diamond', size=44, color='#050505', line_width=0), **axes))
    if sx:
        fig.add_trace(go.Scatter(x=sx, y=sy, mode='markers', marker=dict(symbol='diamond', size=26, color='#050505', line_width=0), **axes))
    fig.add_trace(go.Scatter(x=cx, y=cy, mode='markers',
                             marker=dict(symbol='circle', size=41, color='white', line=dict(color='#333333', width=1.2)), **axes))
    layout['xaxis' + s] = dict(AX, domain=[x0 / W, x1 / W], range=XR, anchor='y' + s,
                               tickvals=X_TICKS, ticktext=X_TICK_TEXT, ticklabelstandoff=12)
    layout['yaxis' + s] = dict(AX, domain=[1 - y1 / H, 1 - y0 / H], range=YR, anchor='x' + s,
                               tickvals=Y_TICKS, ticktext=Y_TICK_TEXT, ticklabelstandoff=12)
    ann.append(dict(text='<b>%s</b>' % PANEL_LETTERS[i], x=LETTER_X[i] / W, y=1 - TEXT_Y[r] / H,
                    xref='paper', yref='paper', xanchor='center', yanchor='middle', showarrow=False,
                    font=dict(family='Liberation Serif, serif', size=77, color='black')))
    label = '|<i>p</i><sub><i>f</i></sub>' + THIN + '|' + THIN + ' = ' + THIN + PF_TEXT[i] + ', ' + THIN + '<i>MF</i>' + THIN + ' = ' + THIN + MF_TEXT[i]
    ann.append(dict(text=label, x=TEXT_X[i] / W, y=1 - TEXT_Y[r] / H, xref='paper', yref='paper', xanchor='left',
                    yanchor='middle', showarrow=False,
                    font=dict(family='Liberation Serif, serif', size=77, color='black')))

CB_LEVELS = np.linspace(0.03, 5, 256)
for r in range(3):
    k = 10 + r
    fig.add_trace(go.Heatmap(z=[[v] for v in CB_LEVELS], y=CB_LEVELS, x=[0], xaxis='x%d' % k, yaxis='y%d' % k,
                             colorscale=PARULA, zmin=0, zmax=5, showscale=False, hoverinfo='skip'))
    y0, y1 = ROWS[r]
    layout['xaxis%d' % k] = dict(domain=[3505 / W, 3553 / W], anchor='y%d' % k, visible=False, fixedrange=True, automargin=False)
    layout['yaxis%d' % k] = dict(domain=[1 - y1 / H, 1 - y0 / H], anchor='x%d' % k, side='right', range=[0.03, 5],
                                 showline=True, linecolor='#454545', linewidth=2, mirror=True, ticks='inside',
                                 ticklen=9, tickcolor='#454545', tickwidth=1.5, showgrid=False, zeroline=False,
                                 tickvals=CBAR_TICKS, ticktext=[str(t) for t in CBAR_TICKS], tickfont=TICK_FONT,
                                 ticklabelstandoff=14, automargin=False)

SEAM_X = [750, 2030, 3308]
SEAM_Y = [328, 1476, 2615]
shapes = []
for sx_ in SEAM_X:
    shapes.append(dict(type='line', xref='paper', yref='paper', x0=sx_ / W, x1=sx_ / W, y0=0, y1=1,
                       line=dict(color='rgba(255,255,255,0.45)', width=1)))
for sy_ in SEAM_Y:
    shapes.append(dict(type='line', xref='paper', yref='paper', x0=0, x1=1, y0=1 - sy_ / H, y1=1 - sy_ / H,
                       line=dict(color='rgba(255,255,255,0.45)', width=1)))

fig.update_layout(width=W, height=H, margin=dict(l=0, r=0, t=0, b=0, autoexpand=False), paper_bgcolor='white',
                  plot_bgcolor=BLUE, showlegend=False, annotations=ann, shapes=shapes, **layout)
fig.write_html('out.html', config={'displayModeBar': False}, post_script="document.body.style.margin='0';")
